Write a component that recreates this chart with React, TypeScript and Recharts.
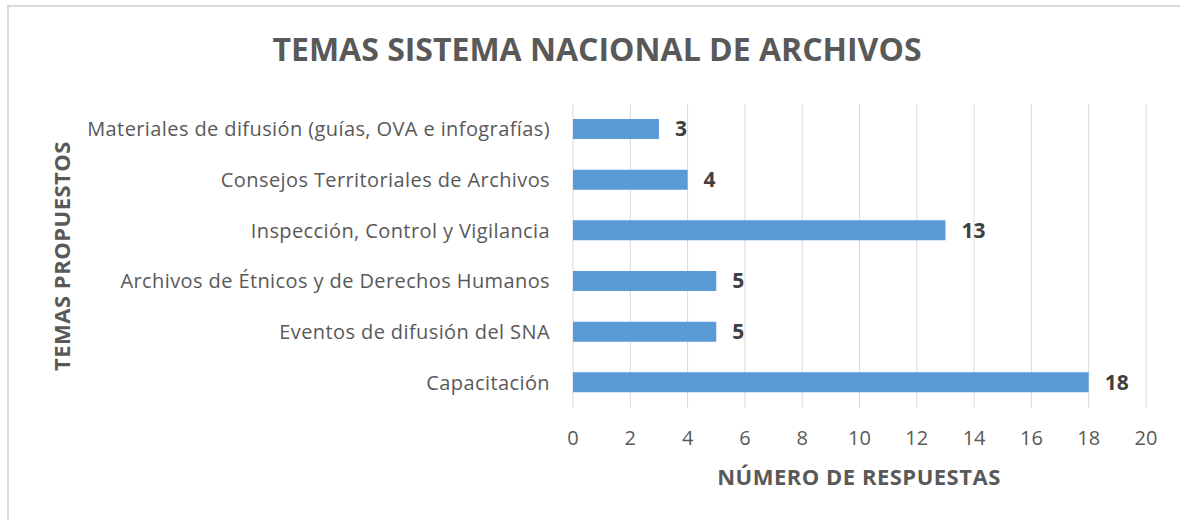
import { Bar, BarChart, CartesianGrid, LabelList, XAxis, YAxis } from "recharts";

const topics = [
  "Materiales de difusión (guías, OVA e infografías)",
  "Consejos Territoriales de Archivos",
  "Inspección, Control y Vigilancia",
  "Archivos de Étnicos y de Derechos Humanos",
  "Eventos de difusión del SNA",
  "Capacitación",
];
const responses = [3, 4, 13, 5, 5, 18];
const xTicks = [0, 2, 4, 6, 8, 10, 12, 14, 16, 18, 20];

const data = topics.map((name, i) => ({ name, value: responses[i] }));

const font = "'Open Sans', 'Noto Sans', sans-serif";
const gray = "#595959";

export default function App() {
  return (
    <div
      style={{
        position: "fixed",
        left: 0,
        top: 0,
        width: 1180,
        height: 520,
        background: "#fff",
        fontFamily: font,
      }}
    >
      <div
        style={{
          position: "absolute",
          left: 7,
          top: 5,
          right: 0,
          bottom: 0,
          borderLeft: "2px solid #d9d9d9",
          borderTop: "2px solid #d9d9d9",
        }}
      />
      <BarChart
        width={1180}
        height={520}
        data={data}
        layout="vertical"
        margin={{ top: 104, right: 34, bottom: 72, left: 0 }}
        barSize={20}
        style={{ position: "absolute", left: 0, top: 0 }}
      >
        <text x={597} y={61} textAnchor="middle" fill={gray} fontSize={32} fontWeight={700} fontFamily={font}>
          TEMAS SISTEMA NACIONAL DE ARCHIVOS
        </text>
        <text
          x={70}
          y={256}
          textAnchor="middle"
          fill={gray}
          fontSize={22}
          fontWeight={700}
          fontFamily={font}
          letterSpacing={0.5}
          transform="rotate(-90 70 256)"
        >
          TEMAS PROPUESTOS
        </text>
        <text
          x={859}
          y={485}
          textAnchor="middle"
          fill={gray}
          fontSize={22}
          fontWeight={700}
          fontFamily={font}
          letterSpacing={0.5}
        >
          NÚMERO DE RESPUESTAS
        </text>
        <CartesianGrid horizontal={false} stroke="#d9d9d9" />
        <XAxis
          type="number"
          domain={[0, 20]}
          ticks={xTicks}
          height={40}
          axisLine={false}
          tickLine={false}
          tickMargin={17}
          tick={{ fill: gray, fontSize: 20, fontFamily: font }}
        />
        <YAxis
          type="category"
          dataKey="name"
          width={573}
          axisLine={false}
          tickLine={false}
          tickSize={0}
          tickMargin={23}
          tick={{ fill: gray, fontSize: 20, fontFamily: font, letterSpacing: 0.4 }}
        />
        <Bar dataKey="value" fill="#5b9bd5" isAnimationActive={false}>
          <LabelList
            dataKey="value"
            position="right"
            offset={16}
            fill="#404040"
            fontSize={21}
            fontWeight={700}
            fontFamily={font}
          />
        </Bar>
      </BarChart>
    </div>
  );
}
